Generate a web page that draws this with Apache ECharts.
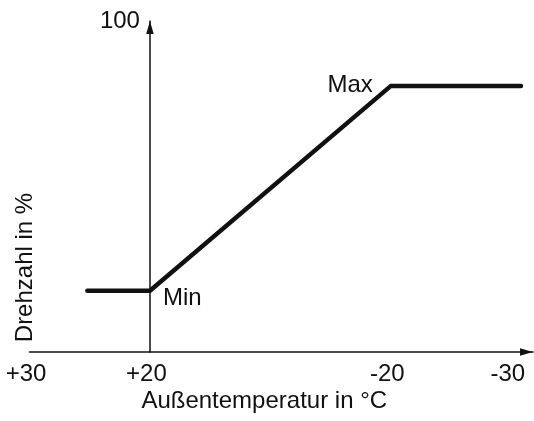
<!DOCTYPE html>
<html>
<head>
<meta charset="utf-8">
<script src="https://cdn.jsdelivr.net/npm/echarts@6/dist/echarts.min.js"></script>
<style>
  html, body { margin: 0; padding: 0; background: #fff; }
  #chart { width: 534px; height: 421px; }
</style>
</head>
<body>
<div id="chart"></div>
<script>
// Schematic heating curve: fan speed against outdoor temperature.
// The temperature axis is schematic: each tick sits in a "slot",
// and the band between +20 and -20 spans two slots.
const tickSlots = [-1, 0, 2, 3];
const tickLabels = ['+30', '+20', '-20', '-30'];

const curveSlots = [-0.52, 0, 2, 3.08];
const speedPct = [18.5, 18.5, 80.4, 80.4];
const pointNames = ['', 'Min', 'Max', ''];

const yTickValues = [100];
const yTickLabels = ['100'];

const FONT = 'Liberation Sans, Arial, Helvetica, sans-serif';
const INK = '#111';

const X_MIN = -1;
const X_MAX = 3.18;
const GRID_LEFT = 29.5;
const GRID_RIGHT = 1;
const CHART_W = 534;

// Shift the speed axis so that it stands at the +20 slot (slot 0).
const plotW = CHART_W - GRID_LEFT - GRID_RIGHT;
const yAxisShift = (0 - X_MIN) / (X_MAX - X_MIN) * plotW;

const chart = echarts.init(document.getElementById('chart'), null, { renderer: 'canvas' });

const labelFor = {
  Min: { position: 'right', distance: 13, offset: [0, 8] },
  Max: { position: 'left', distance: 18, offset: [0, -1] }
};

const seriesData = curveSlots.map((x, i) => {
  const name = pointNames[i];
  const item = { value: [x, speedPct[i]] };
  if (name) {
    item.label = Object.assign({ show: true, formatter: name }, labelFor[name]);
  }
  return item;
});

chart.setOption({
  animation: false,
  backgroundColor: '#fff',
  grid: { left: GRID_LEFT, right: GRID_RIGHT, top: 21, bottom: 69, containLabel: false, outerBoundsMode: 'none' },
  xAxis: {
    type: 'value',
    min: X_MIN,
    max: X_MAX,
    name: 'Außentemperatur in °C',
    nameLocation: 'middle',
    nameGap: 37,
    nameMoveOverlap: false,
    nameTextStyle: { fontFamily: FONT, fontSize: 24, color: INK, padding: [0, 34, 0, 0] },
    axisLine: {
      onZero: false,
      symbol: ['none', 'triangle'],
      symbolSize: [7.5, 13],
      symbolOffset: [0, -6.5],
      lineStyle: { color: INK, width: 1.5 }
    },
    axisTick: { show: false },
    splitLine: { show: false },
    axisLabel: {
      customValues: tickSlots,
      margin: 10,
      fontFamily: FONT,
      fontSize: 24,
      color: INK,
      padding: [0, 7, 0, 0],
      formatter: v => {
        const i = tickSlots.indexOf(v);
        return i >= 0 ? tickLabels[i] : '';
      }
    }
  },
  yAxis: {
    type: 'value',
    min: 0,
    max: 100,
    offset: -yAxisShift,
    name: 'Drehzahl in %',
    nameLocation: 'middle',
    nameRotate: 90,
    nameGap: 113,
    nameMoveOverlap: false,
    nameTextStyle: { fontFamily: FONT, fontSize: 24, color: INK, padding: [0, 162, 0, 0] },
    axisLine: {
      show: true,
      onZero: false,
      symbol: ['none', 'triangle'],
      symbolSize: [7.5, 13],
      symbolOffset: [0, -6.5],
      lineStyle: { color: INK, width: 1.5 }
    },
    axisTick: { show: false },
    splitLine: { show: false },
    axisLabel: {
      customValues: yTickValues,
      margin: 10,
      fontFamily: FONT,
      fontSize: 24,
      color: INK,
      formatter: v => {
        const i = yTickValues.indexOf(v);
        return i >= 0 ? yTickLabels[i] : '';
      }
    }
  },
  series: [{
    type: 'line',
    data: seriesData,
    showSymbol: true,
    symbol: 'circle',
    symbolSize: 0,
    itemStyle: { color: INK, opacity: 0 },
    lineStyle: { color: INK, width: 4.5, cap: 'round', join: 'miter' },
    label: { show: false, fontFamily: FONT, fontSize: 24, color: INK, opacity: 1 },
    emphasis: { disabled: true },
    silent: true
  }]
});
</script>
</body>
</html>
